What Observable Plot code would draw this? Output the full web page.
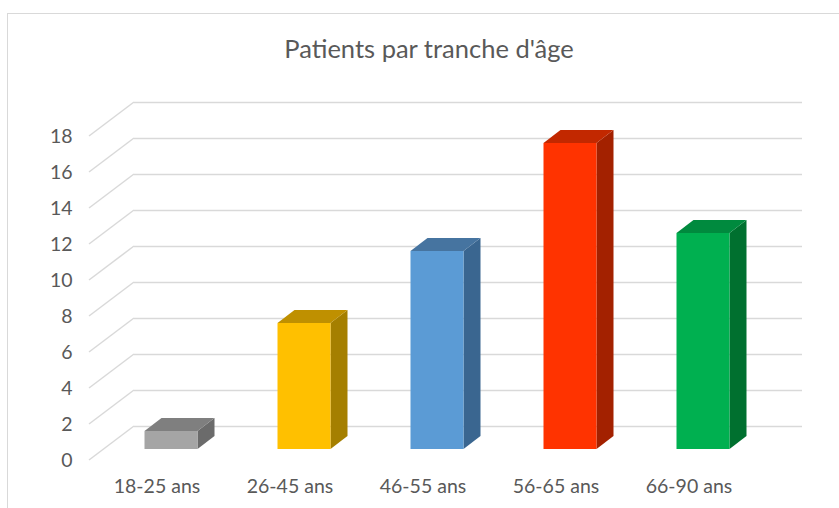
<!DOCTYPE html>
<html>
<head>
<meta charset="utf-8">
<script src="https://cdn.jsdelivr.net/npm/d3@7"></script>
<script src="https://cdn.jsdelivr.net/npm/@observablehq/plot@0.6"></script>
<style>
  body { margin: 0; background: #fff; }
  #wrap { position: relative; width: 839px; height: 508px; overflow: hidden; background: #fff; }
  #frame { position: absolute; left: 7px; top: 13px; width: 900px; height: 600px;
           border-left: 1px solid #d9d9d9; border-top: 1px solid #d9d9d9; }
  #title { position: absolute; left: 0; width: 858px; top: 35.5px; text-align: center;
           font-family: Lato, "Open Sans", sans-serif; font-size: 25.5px; line-height: 25.5px; color: #595959; }
  #chart { position: absolute; left: 0; top: 0; }
</style>
</head>
<body>
<div id="wrap">
  <div id="frame"></div>
  <div id="title">Patients par tranche d'âge</div>
  <div id="chart"></div>
</div>
<script>
// ---- data ----
const categories = ["18-25 ans", "26-45 ans", "46-55 ans", "56-65 ans", "66-90 ans"];
const patients = [1, 7, 11, 17, 12];
const yTicks = [0, 2, 4, 6, 8, 10, 12, 14, 16, 18];

// ---- styles ----
const frontColors = ["#a5a5a5", "#ffc000", "#5b9bd5", "#ff3300", "#00b050"];
const topColors   = ["#7f7f7f", "#bf9000", "#4674a0", "#c22800", "#008a3e"];
const sideColors  = ["#6b6b6b", "#a57f00", "#3a6690", "#a32100", "#00702f"];

const data = categories.map((c, i) => ({cat: c, value: patients[i]}));

const DEPTH = [45, -34];      // floor depth offset (px)
const BAR_OFF = [14.5, -11];  // bar front face offset from front plane
const BAR_DEPTH = [17, -13];  // bar depth offset

function gridDiagonals(index, scales, values, dims) {
  const g = d3.create("svg:g").attr("stroke", "#d9d9d9").attr("stroke-width", 1.5);
  for (const t of yTicks) {
    const y = scales.y(t);
    g.append("line")
      .attr("x1", dims.marginLeft).attr("y1", y)
      .attr("x2", dims.marginLeft + DEPTH[0]).attr("y2", y + DEPTH[1]);
  }
  return g.node();
}

function barSides(index, scales) {
  const x = scales.x, y = scales.y;
  const bw = x.bandwidth();
  const g = d3.create("svg:g");
  data.forEach((d, i) => {
    const xl = x(d.cat) + BAR_OFF[0], xr = xl + bw;
    const y0 = y(0) + BAR_OFF[1], yt = y(d.value) + BAR_OFF[1];
    const [ddx, ddy] = BAR_DEPTH;
    g.append("path").attr("fill", sideColors[i])
      .attr("d", `M${xr},${y0}L${xr + ddx},${y0 + ddy}L${xr + ddx},${yt + ddy}L${xr},${yt}Z`);
    g.append("path").attr("fill", topColors[i])
      .attr("d", `M${xl},${yt}L${xl + ddx},${yt + ddy}L${xr + ddx},${yt + ddy}L${xr},${yt}Z`);
  });
  return g.node();
}

const chart = Plot.plot({
  width: 839,
  height: 508,
  marginLeft: 89,
  marginRight: 82,
  marginTop: 136,
  marginBottom: 48,
  style: {fontFamily: "Lato, 'Open Sans', sans-serif", fontSize: "19.5px", color: "#595959", background: "transparent", overflow: "visible"},
  x: {domain: categories, paddingInner: 0.6, paddingOuter: 0.3, label: null, tickSize: 0, tickPadding: 19},
  y: {domain: [0, 18], ticks: yTicks, label: null, tickSize: 0, tickPadding: 17},
  color: {domain: categories, range: frontColors},
  marks: [
    Plot.ruleY(yTicks, {dx: DEPTH[0], dy: DEPTH[1], stroke: "#d9d9d9", strokeWidth: 1.5}),
    gridDiagonals,
    barSides,
    Plot.barY(data, {x: "cat", y: "value", fill: "cat", dx: BAR_OFF[0], dy: BAR_OFF[1]})
  ]
});
document.getElementById("chart").appendChild(chart);
</script>
</body>
</html>
